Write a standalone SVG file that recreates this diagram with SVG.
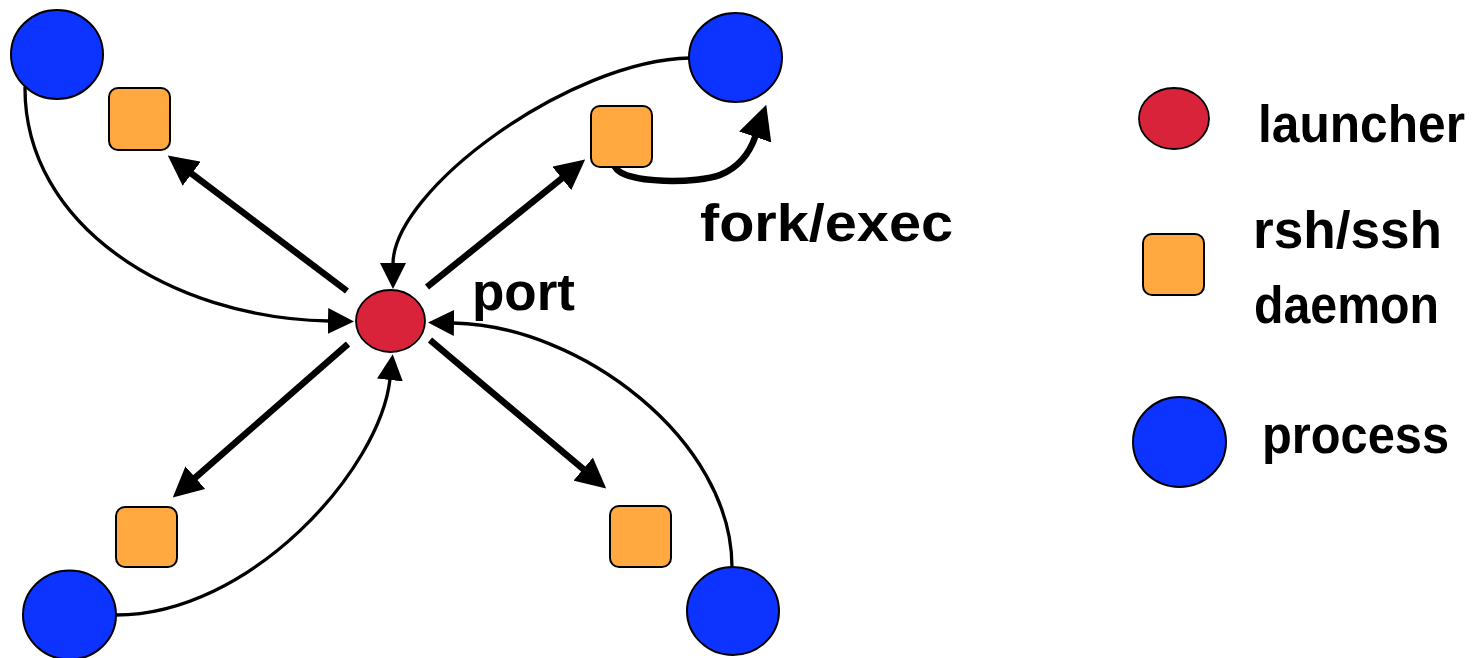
<svg xmlns="http://www.w3.org/2000/svg" width="1479" height="658" viewBox="0 0 1479 658">
<style>
.proc{fill:#0C33FF;stroke:#000;stroke-width:2}
.launch{fill:#D8233A;stroke:#000;stroke-width:1.8}
.daemon{fill:#FFA940;stroke:#000;stroke-width:2}
.thick{fill:none;stroke:#000;stroke-width:6.5}
.thin{fill:none;stroke:#000;stroke-width:3.3}
.fork{fill:none;stroke:#000;stroke-width:6.5;stroke-linecap:round}
.lbl{font-family:"Liberation Sans",Arial,sans-serif;font-weight:bold;font-size:51px;fill:#000}
</style>
<defs>
<marker id="ah" markerUnits="userSpaceOnUse" markerWidth="30" markerHeight="30" viewBox="0 0 30 30" refX="1" refY="15" orient="auto"><path d="M0,0 L30,15 L0,30 z" fill="#000"/></marker>
<marker id="ahs" markerUnits="userSpaceOnUse" markerWidth="26" markerHeight="26" viewBox="0 0 26 26" refX="1" refY="13" orient="auto"><path d="M0,0 L26,13 L0,26 z" fill="#000"/></marker>
<marker id="ahf" markerUnits="userSpaceOnUse" markerWidth="34" markerHeight="34" viewBox="0 0 34 34" refX="1" refY="17" orient="auto"><path d="M0,0 L34,17 L0,34 z" fill="#000"/></marker>
</defs>
<rect width="1479" height="658" fill="#fff"/>
<g id="connectors">
<path class="thick" d="M347,291 L190.9,173.1" marker-end="url(#ah)"/>
<path class="thick" d="M427,287 L562.6,177.8" marker-end="url(#ah)"/>
<path class="thick" d="M348,344 L194.6,478.3" marker-end="url(#ah)"/>
<path class="thick" d="M430,340 L584.0,469.7" marker-end="url(#ah)"/>
<path class="thin" d="M25,87 C24,225 170,318 329,321" marker-end="url(#ahs)"/>
<path class="thin" d="M690,58 C570,60 393,190 393,264" marker-end="url(#ahs)"/>
<path class="thin" d="M116,615 C250,615 380,470 390,379" marker-end="url(#ahs)"/>
<path class="thin" d="M732,567 C732,440 580,325 453,323" marker-end="url(#ahs)"/>
<path class="fork" d="M615,167 C625,185 700,183 720,175 C740,167 750,152 755.5,136" marker-end="url(#ahf)"/>
</g>
<g id="launcher"><ellipse class="launch" cx="390.5" cy="321" rx="34.5" ry="31"/></g>
<g id="proc-tl"><ellipse class="proc" cx="57" cy="54.5" rx="46" ry="44.5"/></g>
<g id="proc-tr"><ellipse class="proc" cx="735.5" cy="57.5" rx="46.5" ry="44.5"/></g>
<g id="proc-bl"><ellipse class="proc" cx="69.5" cy="615" rx="46.5" ry="44.5"/></g>
<g id="proc-br"><ellipse class="proc" cx="733" cy="611" rx="46" ry="44"/></g>
<g id="daemon-tl"><rect class="daemon" x="109" y="88" width="61" height="62" rx="9"/></g>
<g id="daemon-tr"><rect class="daemon" x="591" y="106" width="61" height="61" rx="9"/></g>
<g id="daemon-bl"><rect class="daemon" x="116" y="507" width="61" height="60" rx="9"/></g>
<g id="daemon-br"><rect class="daemon" x="610" y="506" width="61" height="61" rx="9"/></g>
<g id="label-port"><text class="lbl" x="472" y="310" textLength="103" lengthAdjust="spacingAndGlyphs">port</text></g>
<g id="label-fork"><text class="lbl" x="700" y="241" textLength="253" lengthAdjust="spacingAndGlyphs">fork/exec</text></g>
<g id="legend-launcher">
<ellipse class="launch" cx="1174" cy="118.5" rx="35" ry="30.5"/>
<text class="lbl" x="1258" y="142" textLength="207" lengthAdjust="spacingAndGlyphs">launcher</text>
</g>
<g id="legend-daemon">
<rect class="daemon" x="1143" y="234" width="61" height="61" rx="9"/>
<text class="lbl" x="1253" y="248" textLength="189" lengthAdjust="spacingAndGlyphs">rsh/ssh</text>
<text class="lbl" x="1254" y="323" textLength="185" lengthAdjust="spacingAndGlyphs">daemon</text>
</g>
<g id="legend-process">
<ellipse class="proc" cx="1179.5" cy="442" rx="46.5" ry="45"/>
<text class="lbl" x="1262" y="453" textLength="187" lengthAdjust="spacingAndGlyphs">process</text>
</g>
</svg>
